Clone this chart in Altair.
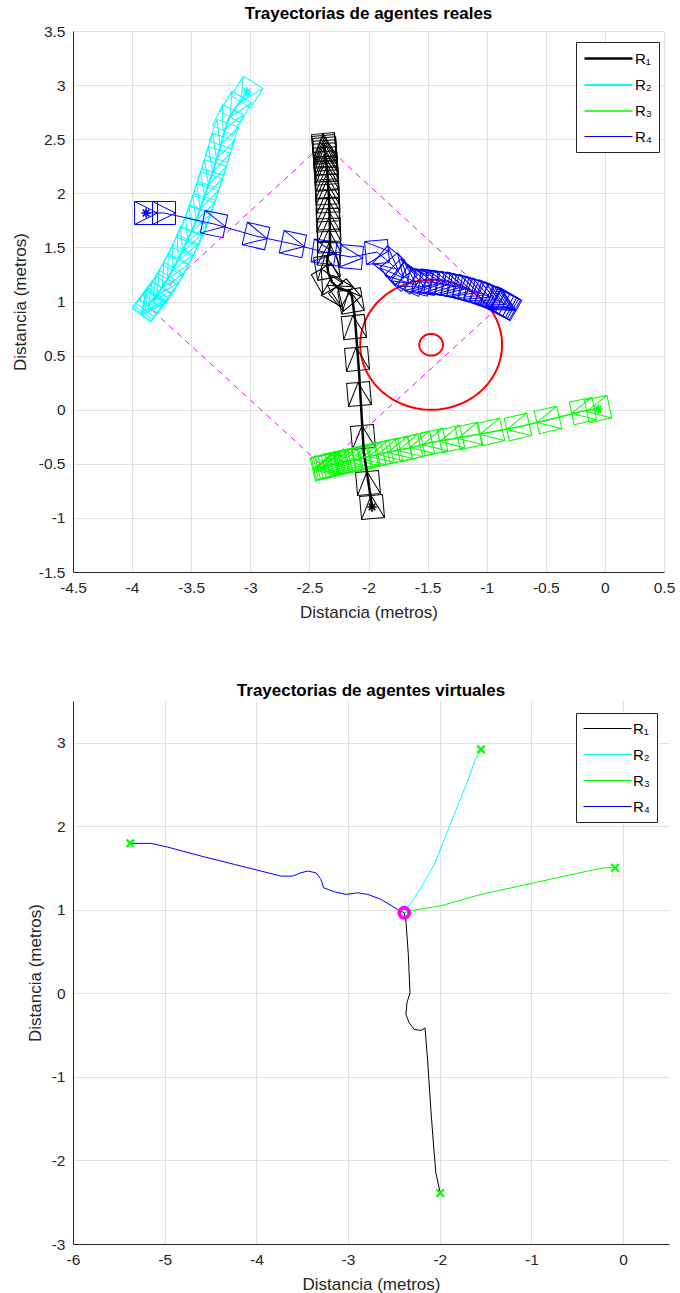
import altair as alt
import numpy as np
import pandas as pd

FONT = "Liberation Sans"
AXC = "#262626"
ROBOTS = ["R₁", "R₂", "R₃", "R₄"]
COLORS = ["#000000", "#00ffff", "#00ff00", "#0000ff"]
LINE_W_TOP = [2.5, 1, 1, 1]

X_TICKS_TOP = [-4.5, -4, -3.5, -3, -2.5, -2, -1.5, -1, -0.5, 0, 0.5]
Y_TICKS_TOP = [-1.5, -1, -0.5, 0, 0.5, 1, 1.5, 2, 2.5, 3, 3.5]
X_TICKS_BOT = [-6, -5, -4, -3, -2, -1, 0]
Y_TICKS_BOT = [-3, -2, -1, 0, 1, 2, 3]

# ---------------- real agents (top) ----------------
# formation diamond (target positions)
DIAM_X = [-2.38, -0.89, -2.38, -3.87, -2.38]
DIAM_Y = [2.46, 0.96, -0.53, 0.96, 2.46]

# obstacle circles: centre x, centre y, radius
CIRC_CX = [-1.47, -1.47]
CIRC_CY = [0.60, 0.60]
CIRC_R = [0.60, 0.10]

# R1 path (thick)
R1_LN_X = [-1.970, -2.005, -2.040, -2.080, -2.114, -2.140, -2.173, -2.250, -2.309,
           -2.343, -2.351, -2.326, -2.326, -2.334, -2.351, -2.376]
R1_LN_Y = [-0.899, -0.640, -0.390, 0.348, 0.838, 1.051, 1.097, 1.116, 1.180,
           1.273, 1.374, 1.513, 1.670, 1.947, 2.225, 2.446]

# robot footprints: x, y, heading (deg)
R1_SQ_X = [-1.970, -2.004, -2.047, -2.080, -2.097, -2.123, -2.148, -2.200, -2.266, -2.351,
           -2.351, -2.334, -2.334, -2.334, -2.343, -2.343, -2.343, -2.351, -2.351, -2.351,
           -2.360, -2.360, -2.360, -2.368, -2.368, -2.368, -2.368, -2.376, -2.376]
R1_SQ_Y = [-0.899, -0.677, -0.252, 0.145, 0.469, 0.764, 1.005, 1.060, 1.097, 1.208,
           1.319, 1.439, 1.559, 1.661, 1.753, 1.846, 1.929, 2.003, 2.067, 2.132,
           2.188, 2.234, 2.280, 2.317, 2.354, 2.382, 2.409, 2.428, 2.446]
R1_SQ_H = [95, 95, 95, 95, 95, 96, 100, 130, 150, 120,
           100, 88, 92, 92, 92, 93, 93, 93, 93, 93,
           94, 94, 94, 94, 94, 94, 94, 95, 95]

R2_SQ_X = [-3.028, -3.121, -3.189, -3.223, -3.256, -3.290, -3.324, -3.358, -3.392, -3.426,
           -3.459, -3.493, -3.536, -3.569, -3.612, -3.654, -3.696, -3.739, -3.772, -3.806,
           -3.832, -3.849, -3.857, -3.865]
R2_SQ_Y = [2.936, 2.798, 2.677, 2.548, 2.419, 2.299, 2.178, 2.067, 1.957, 1.846,
           1.744, 1.652, 1.559, 1.476, 1.384, 1.300, 1.217, 1.143, 1.088, 1.042,
           1.005, 0.986, 0.968, 0.958]
R2_SQ_H = [238, 240, 245, 250, 252, 253, 253, 253, 252, 251,
           250, 249, 248, 246, 244, 242, 240, 238, 236, 235,
           234, 233, 233, 233]

R3_SQ_X = [-0.058, -0.185, -0.481, -0.735, -0.964, -1.150, -1.302, -1.446, -1.556, -1.657,
           -1.742, -1.827, -1.903, -1.970, -2.030, -2.080, -2.131, -2.173, -2.216, -2.250,
           -2.283, -2.309, -2.334, -2.351, -2.368, -2.376]
R3_SQ_Y = [0.006, -0.012, -0.095, -0.160, -0.206, -0.243, -0.271, -0.299, -0.326, -0.354,
           -0.372, -0.391, -0.409, -0.428, -0.437, -0.456, -0.465, -0.474, -0.483, -0.493,
           -0.502, -0.511, -0.511, -0.520, -0.520, -0.530]
R3_SQ_H = [192, 192, 193, 193, 193, 193, 193, 193, 193, 193,
           193, 193, 193, 193, 193, 193, 193, 193, 193, 193,
           193, 193, 193, 193, 193, 193]

R4_SQ_X = [-3.882, -3.730, -3.307, -2.952, -2.639, -2.376, -2.148, -1.928, -1.827, -1.767,
           -1.725, -1.674, -1.624, -1.573, -1.522, -1.471, -1.421, -1.370, -1.319, -1.268,
           -1.217, -1.167, -1.116, -1.065, -1.014, -0.972, -0.938, -0.904, -0.879, -0.862,
           -0.845, -0.837]
R4_SQ_Y = [1.818, 1.818, 1.716, 1.605, 1.531, 1.457, 1.411, 1.457, 1.365, 1.300,
           1.245, 1.217, 1.189, 1.180, 1.180, 1.180, 1.171, 1.162, 1.152, 1.143,
           1.125, 1.116, 1.097, 1.079, 1.060, 1.042, 1.023, 1.005, 0.995, 0.986,
           0.977, 0.968]
R4_SQ_H = [0, 0, 348, 347, 348, 352, 355, 5, 320, 310,
           315, 325, 335, 345, 350, 352, 352, 350, 348, 346,
           344, 342, 340, 338, 336, 334, 332, 331, 330, 330,
           330, 330]

# start markers (asterisks)
START_X = [-1.970, -3.028, -0.058, -3.882]
START_Y = [-0.899, 2.936, 0.006, 1.818]

# ---------------- virtual agents (bottom) ----------------
V_R1_X = [-1.995, -2.042, -2.060, -2.096, -2.132, -2.161, -2.205, -2.278, -2.333, -2.369,
          -2.358, -2.325, -2.343, -2.369, -2.387]
V_R1_Y = [-2.389, -2.153, -1.925, -1.410, -0.811, -0.413, -0.444, -0.432, -0.353, -0.252,
          -0.113, 0.007, 0.467, 0.865, 0.961]
V_R2_X = [-2.387, -2.350, -2.205, -2.060, -1.987, -1.842, -1.696, -1.605, -1.551]
V_R2_Y = [0.965, 1.025, 1.264, 1.544, 1.743, 2.143, 2.542, 2.821, 2.921]
V_R3_X = [-2.387, -2.314, -1.987, -1.551, -0.969, -0.387, -0.206, -0.089]
V_R3_Y = [0.965, 0.990, 1.049, 1.185, 1.324, 1.464, 1.504, 1.504]
V_R4_X = [-5.375, -5.149, -4.967, -4.604, -4.241, -3.732, -3.604, -3.514, -3.441, -3.350,
          -3.296, -3.266, -3.150, -3.023, -2.895, -2.786, -2.641, -2.459, -2.387]
V_R4_Y = [1.796, 1.796, 1.751, 1.644, 1.544, 1.404, 1.404, 1.444, 1.464, 1.444,
          1.365, 1.264, 1.216, 1.185, 1.204, 1.185, 1.125, 1.005, 0.965]
V_START_X = [-1.995, -1.551, -0.089, -5.375]
V_START_Y = [-2.389, 2.921, 1.504, 1.796]
MEET_X = [-2.387]
MEET_Y = [0.965]

# ---------------- build tables ----------------
SQUARE = "M-1,-1L1,-1L1,1L-1,1Z M-1,-1L1,0L-1,1"
ASTER = "M-1,0L1,0M0,-1L0,1M-0.7,-0.7L0.7,0.7M-0.7,0.7L0.7,-0.7"
XMARK = "M-1,-1L1,1M-1,1L1,-1"


def path_df(label, xs, ys):
    return pd.DataFrame({"robot": label, "x": xs, "y": ys, "i": range(len(xs))})


sq_sets = [(R1_SQ_X, R1_SQ_Y, R1_SQ_H), (R2_SQ_X, R2_SQ_Y, R2_SQ_H),
           (R3_SQ_X, R3_SQ_Y, R3_SQ_H), (R4_SQ_X, R4_SQ_Y, R4_SQ_H)]
sq_df = pd.concat([
    pd.DataFrame({"x": xs, "y": ys, "ang": [(360 - h) % 360 for h in hs], "col": COLORS[k]})
    for k, (xs, ys, hs) in enumerate(sq_sets)
], ignore_index=True)

top_lines = pd.concat([
    path_df(ROBOTS[0], R1_LN_X, R1_LN_Y),
    path_df(ROBOTS[1], R2_SQ_X, R2_SQ_Y),
    path_df(ROBOTS[2], R3_SQ_X, R3_SQ_Y),
    path_df(ROBOTS[3], R4_SQ_X, R4_SQ_Y),
], ignore_index=True)

diam_df = pd.DataFrame({"x": DIAM_X, "y": DIAM_Y, "i": range(len(DIAM_X))})

t = np.linspace(0, 2 * np.pi, 145)
circ_df = pd.concat([
    pd.DataFrame({"c": k, "x": cx + r * np.cos(t), "y": cy + r * np.sin(t), "i": range(len(t))})
    for k, (cx, cy, r) in enumerate(zip(CIRC_CX, CIRC_CY, CIRC_R))
], ignore_index=True)

start_df = pd.DataFrame({"x": START_X, "y": START_Y, "col": COLORS})

bot_lines = pd.concat([
    path_df(ROBOTS[0], V_R1_X, V_R1_Y),
    path_df(ROBOTS[1], V_R2_X, V_R2_Y),
    path_df(ROBOTS[2], V_R3_X, V_R3_Y),
    path_df(ROBOTS[3], V_R4_X, V_R4_Y),
], ignore_index=True)
vstart_df = pd.DataFrame({"x": V_START_X, "y": V_START_Y})
meet_df = pd.DataFrame({"x": MEET_X, "y": MEET_Y})

# ---------------- encodings ----------------
LBL = "''+datum.value"


def xenc(domain, ticks, title_pad):
    return alt.X("x:Q", scale=alt.Scale(domain=domain, nice=False, zero=False),
                 axis=alt.Axis(values=ticks, labelExpr=LBL, title="Distancia (metros)",
                               labelPadding=8, titlePadding=title_pad, labelOverlap=False,
                               labelFlush=False))


def yenc(domain, ticks, title_pad):
    return alt.Y("y:Q", scale=alt.Scale(domain=domain, nice=False, zero=False),
                 axis=alt.Axis(values=ticks, labelExpr=LBL, title="Distancia (metros)",
                               labelPadding=8, titlePadding=title_pad, labelOverlap=False,
                               labelFlush=False))


LEG = dict(title=None, orient="none", fillColor="white", strokeColor=AXC, padding=7,
           symbolType="M-3,0L3,0", symbolSize=256, symbolOffset=16, labelOffset=17,
           labelFont=FONT, labelFontSize=15, labelColor="black", rowPadding=9,
           symbolStrokeWidth=1, symbolOpacity=1)

XT = xenc([-4.5, 0.5], X_TICKS_TOP, 9)
YT = yenc([-1.5, 3.5], Y_TICKS_TOP, 9)

diamond = alt.Chart(diam_df).mark_line(color="#ff00ff", strokeDash=[6, 5], strokeWidth=1).encode(
    x=XT, y=YT, order="i:Q")
circles = alt.Chart(circ_df).mark_line(color="#ff0000", strokeWidth=2).encode(
    x=XT, y=YT, detail="c:N", order="i:Q")
squares = alt.Chart(sq_df).mark_point(shape=SQUARE, filled=False, size=529, strokeWidth=1,
                                      opacity=1).encode(
    x=XT, y=YT, color=alt.Color("col:N", scale=None), angle=alt.Angle("ang:Q", scale=None))
leg_top = alt.Legend(legendX=503, legendY=11, **LEG)
lines_top = alt.Chart(top_lines).mark_line().encode(
    x=XT, y=YT, order="i:Q",
    color=alt.Color("robot:N", scale=alt.Scale(domain=ROBOTS, range=COLORS), legend=leg_top),
    strokeWidth=alt.StrokeWidth("robot:N", scale=alt.Scale(domain=ROBOTS, range=LINE_W_TOP),
                                legend=leg_top))
starts = alt.Chart(start_df).mark_point(shape=ASTER, filled=False, size=90, strokeWidth=1.6,
                                        opacity=1).encode(
    x=XT, y=YT, color=alt.Color("col:N", scale=None))

top = alt.layer(diamond, circles, squares, lines_top, starts).properties(
    width=591, height=541, title="Trayectorias de agentes reales")

XB = xenc([-6, 0.5], X_TICKS_BOT, 9)
YB = yenc([-3, 3.5], Y_TICKS_BOT, 7)
leg_bot = alt.Legend(legendX=503, legendY=12, **LEG)
lines_bot = alt.Chart(bot_lines).mark_line(strokeWidth=1).encode(
    x=XB, y=YB, order="i:Q",
    color=alt.Color("robot:N", scale=alt.Scale(domain=ROBOTS, range=COLORS), legend=leg_bot))
vstarts = alt.Chart(vstart_df).mark_point(shape=XMARK, filled=False, size=56, strokeWidth=2.2,
                                          color="#00ff00", opacity=1).encode(x=XB, y=YB)
meet = alt.Chart(meet_df).mark_point(shape="circle", filled=False, size=100, strokeWidth=3.8,
                                     color="#ff00ff", opacity=1).encode(x=XB, y=YB)

bottom = alt.layer(lines_bot, vstarts, meet).properties(
    width=596, height=543, title="Trayectorias de agentes virtuales")

chart = alt.vconcat(top, bottom, spacing=129, bounds="flush").resolve_scale(
    color="independent", strokeWidth="independent").resolve_legend(
    color="independent", strokeWidth="independent").properties(
    padding={"left": 11, "top": 5, "right": 5, "bottom": 5}
).configure_axis(
    labelFont=FONT, labelFontSize=15.5, labelColor=AXC,
    titleFont=FONT, titleFontSize=17, titleFontWeight="normal", titleColor=AXC,
    domainColor=AXC, domainWidth=1, gridColor="#e2e2e2", grid=True, ticks=False
).configure_view(stroke=None).configure_title(
    font=FONT, fontSize=17, fontWeight="bold", color="black", offset=1, anchor="middle"
)

chart.save("out.html", embed_options={"renderer": "svg", "actions": False})
